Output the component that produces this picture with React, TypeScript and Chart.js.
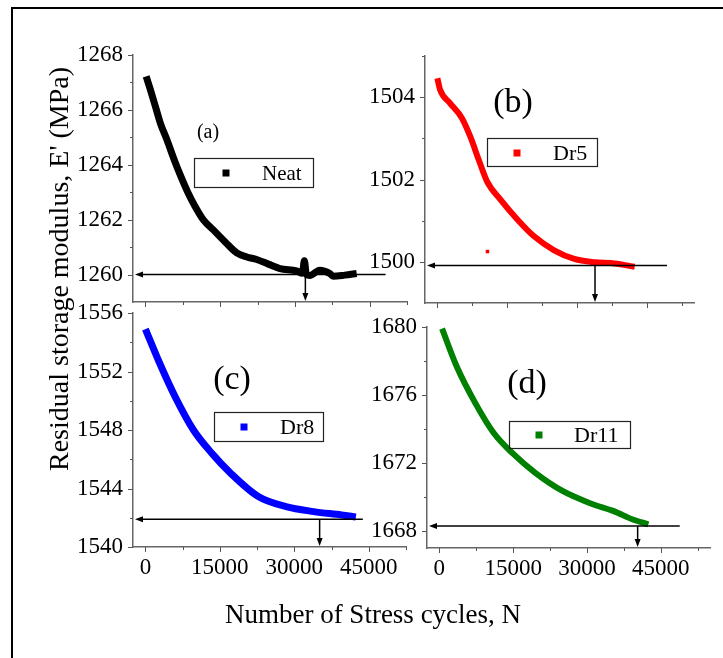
import React, { useEffect, useRef } from 'react';
import { Chart, registerables } from 'chart.js';
Chart.register(...registerables);

// ---------- Data ----------
// (a) Neat
const neatX = [140, 1000, 2000, 3000, 4330, 5670, 7000, 8470, 10000, 11670, 13670, 16000, 18330, 20330, 22330, 24670, 27000, 30330, 31500, 31900, 32300, 33000, 35000, 37000, 37670, 40000, 42400];
const neatY = [1267.22, 1266.73, 1266.12, 1265.51, 1264.9, 1264.23, 1263.62, 1263.01, 1262.47, 1261.98, 1261.62, 1261.19, 1260.79, 1260.64, 1260.55, 1260.38, 1260.22, 1260.13, 1260.05, 1260.5, 1260.0, 1259.97, 1260.16, 1260.04, 1259.94, 1259.98, 1260.04];
// (b) Dr5
const dr5X = [150, 730, 2880, 5400, 7190, 8980, 10780, 13640, 17240, 20810, 25110, 29420, 33720, 38030, 42330];
const dr5Y = [1504.46, 1504.18, 1503.85, 1503.49, 1503.04, 1502.48, 1501.95, 1501.51, 1501.03, 1500.62, 1500.28, 1500.07, 1499.99, 1499.96, 1499.88];
const dr5OutX = [10850];
const dr5OutY = [1500.25];
// (c) Dr8
const dr8X = [0, 2700, 5950, 9680, 13400, 17150, 22740, 28330, 33900, 39500, 42400];
const dr8Y = [1554.9, 1552.7, 1550.3, 1548.0, 1546.4, 1545.05, 1543.45, 1542.76, 1542.42, 1542.19, 1542.05];
// (d) Dr11
const dr11X = [560, 3560, 7320, 11060, 14820, 19500, 25130, 30760, 35450, 39200, 42470];
const dr11Y = [1679.9, 1677.66, 1675.52, 1673.76, 1672.59, 1671.42, 1670.34, 1669.62, 1669.17, 1668.69, 1668.39];

// Tick values
const xMajorTicks = [0, 15000, 30000, 45000];
const xMinorTicks = [7500, 22500, 37500, 52500];
const aYMajor = [1260, 1262, 1264, 1266, 1268];
const aYMinor = [1261, 1263, 1265, 1267];
const bYMajor = [1500, 1502, 1504];
const bYMinor = [1501, 1503, 1505];
const cYMajor = [1540, 1544, 1548, 1552, 1556];
const cYMinor = [1542, 1546, 1550, 1554];
const dYMajor = [1668, 1672, 1676, 1680];
const dYMinor = [1670, 1674, 1678];

// Arrow guide values: [horizontal level, horizontal line end x, vertical arrow x]
const aArrow = [1260, 48200, 32100];
const bArrow = [1499.91, 49240, 33840];
const cArrow = [1541.9, 43800, 35100];
const dArrow = [1668.3, 48850, 40300];

const SERIF = "'Liberation Serif', 'Times New Roman', serif";

type Panel = {
  area: { l: number; t: number; r: number; b: number };
  xMin: number; xMax: number; yMin: number; yMax: number;
  yMajor: number[]; yMinor: number[];
  showXLabels: boolean;
  xs: number[]; ys: number[]; color: string; lw: number;
  extraX?: number[]; extraY?: number[];
  arrow: number[];
  legend: { label: string; box: [number, number, number, number]; mx: number; my: number; tx: number; size: number };
  tag: { text: string; x: number; y: number; size: number };
};

const panels: Panel[] = [
  {
    area: { l: 133, t: 55, r: 407, b: 302 }, xMin: -2500, xMax: 52500, yMin: 1259, yMax: 1268,
    yMajor: aYMajor, yMinor: aYMinor, showXLabels: false,
    xs: neatX, ys: neatY, color: '#000000', lw: 7, arrow: aArrow,
    legend: { label: 'Neat', box: [194, 158, 313, 187], mx: 226, my: 173, tx: 262, size: 21 },
    tag: { text: '(a)', x: 208, y: 133, size: 20 },
  },
  {
    area: { l: 425, t: 56, r: 694, b: 303 }, xMin: -2500, xMax: 55000, yMin: 1499, yMax: 1505,
    yMajor: bYMajor, yMinor: bYMinor, showXLabels: false,
    xs: dr5X, ys: dr5Y, color: '#ff0000', lw: 6, extraX: dr5OutX, extraY: dr5OutY, arrow: bArrow,
    legend: { label: 'Dr5', box: [487, 138, 597, 166], mx: 517, my: 153, tx: 553, size: 22 },
    tag: { text: '(b)', x: 513, y: 103, size: 34 },
  },
  {
    area: { l: 133, t: 313, r: 406, b: 547 }, xMin: -2500, xMax: 52500, yMin: 1540, yMax: 1556,
    yMajor: cYMajor, yMinor: cYMinor, showXLabels: true,
    xs: dr8X, ys: dr8Y, color: '#0000ff', lw: 7, arrow: cArrow,
    legend: { label: 'Dr8', box: [214, 412, 323, 441], mx: 244, my: 427, tx: 280, size: 22 },
    tag: { text: '(c)', x: 232, y: 380, size: 34 },
  },
  {
    area: { l: 427, t: 327, r: 710, b: 548 }, xMin: -2500, xMax: 55000, yMin: 1667, yMax: 1680,
    yMajor: dYMajor, yMinor: dYMinor, showXLabels: true,
    xs: dr11X, ys: dr11Y, color: '#008000', lw: 6, arrow: dArrow,
    legend: { label: 'Dr11', box: [509, 421, 630, 448], mx: 539, my: 435, tx: 574, size: 22 },
    tag: { text: '(d)', x: 527, y: 384, size: 34 },
  },
];

function arrowHead(ctx: CanvasRenderingContext2D, tx: number, ty: number, dx: number, dy: number) {
  const len = 8, half = 3;
  const bx = tx - dx * len, by = ty - dy * len;
  const px = -dy, py = dx;
  ctx.beginPath();
  ctx.moveTo(tx, ty);
  ctx.lineTo(bx + px * half, by + py * half);
  ctx.lineTo(bx - px * half, by - py * half);
  ctx.closePath();
  ctx.fill();
}

function PanelChart({ p }: { p: Panel }) {
  const ref = useRef<HTMLCanvasElement>(null);
  useEffect(() => {
    const W = 723, H = 658, YW = 60, XH = 40;
    const deco = {
      id: 'deco',
      afterDatasetsDraw(chart: any) {
        const ctx: CanvasRenderingContext2D = chart.ctx;
        const xs = chart.scales.x, ys = chart.scales.y;
        const ca = chart.chartArea;
        ctx.save();
        const [hy, hxEnd, vx] = p.arrow;
        const yP = ys.getPixelForValue(hy);
        const xEnd = xs.getPixelForValue(hxEnd);
        const xV = xs.getPixelForValue(vx);
        ctx.strokeStyle = '#000';
        ctx.fillStyle = '#000';
        ctx.lineWidth = 1.5;
        ctx.beginPath();
        ctx.moveTo(ca.left + 6, yP);
        ctx.lineTo(xEnd, yP);
        ctx.stroke();
        arrowHead(ctx, ca.left + 2, yP, -1, 0);
        ctx.beginPath();
        ctx.moveTo(xV, yP);
        ctx.lineTo(xV, ca.bottom - 6);
        ctx.stroke();
        arrowHead(ctx, xV, ca.bottom - 1, 0, 1);
        ctx.restore();
      },
      afterDraw(chart: any) {
        const ctx: CanvasRenderingContext2D = chart.ctx;
        const xs = chart.scales.x, ys = chart.scales.y;
        const ca = chart.chartArea;
        ctx.save();
        ctx.strokeStyle = '#555';
        ctx.lineWidth = 1;
        const yt = (v: number, len: number) => {
          const y = Math.round(ys.getPixelForValue(v)) + 0.5;
          ctx.beginPath(); ctx.moveTo(ca.left - len, y); ctx.lineTo(ca.left, y); ctx.stroke();
        };
        const xt = (v: number, len: number) => {
          if (v < p.xMin || v > p.xMax) return;
          const x = Math.round(xs.getPixelForValue(v)) + 0.5;
          ctx.beginPath(); ctx.moveTo(x, ca.bottom); ctx.lineTo(x, ca.bottom + len); ctx.stroke();
        };
        p.yMajor.forEach(v => yt(v, 5));
        p.yMinor.forEach(v => { if (v <= p.yMax) yt(v, 3); });
        xMajorTicks.forEach(v => xt(v, 5));
        xMinorTicks.forEach(v => xt(v, 3));
        const [l, t, r, b] = p.legend.box;
        ctx.strokeStyle = '#222';
        ctx.lineWidth = 1.2;
        ctx.strokeRect(l + 0.5, t + 0.5, r - l, b - t);
        ctx.fillStyle = p.color;
        ctx.fillRect(p.legend.mx - 3.5, p.legend.my - 3.5, 7, 7);
        ctx.fillStyle = '#000';
        ctx.font = `${p.legend.size}px ${SERIF}`;
        ctx.textAlign = 'left';
        ctx.textBaseline = 'middle';
        ctx.fillText(p.legend.label, p.legend.tx, p.legend.my + 1);
        ctx.font = `${p.tag.size}px ${SERIF}`;
        ctx.textAlign = 'center';
        ctx.fillText(p.tag.text, p.tag.x, p.tag.y);
        ctx.restore();
      },
    };
    const datasets: any[] = [
      {
        data: p.xs.map((x, i) => ({ x, y: p.ys[i] })),
        borderColor: p.color,
        backgroundColor: p.color,
        borderWidth: p.lw,
        pointRadius: 0,
        cubicInterpolationMode: 'monotone',
        borderCapStyle: 'butt',
        borderJoinStyle: 'round',
        fill: false,
      },
    ];
    if (p.extraX) {
      datasets.push({
        data: p.extraX.map((x, i) => ({ x, y: p.extraY![i] })),
        showLine: false,
        pointStyle: 'rect',
        pointRadius: 2.5,
        borderWidth: 0,
        backgroundColor: p.color,
        borderColor: p.color,
      });
    }
    const tickFont = { family: SERIF, size: 23 };
    const chart = new Chart(ref.current!, {
      type: 'line',
      data: { datasets },
      options: {
        animation: false,
        responsive: false,
        devicePixelRatio: 1,
        events: [],
        layout: { padding: { left: p.area.l - YW, right: W - p.area.r, top: p.area.t, bottom: H - p.area.b - XH } },
        plugins: { legend: { display: false }, tooltip: { enabled: false }, title: { display: false } },
        scales: {
          x: {
            type: 'linear', min: p.xMin, max: p.xMax,
            afterFit: (s: any) => { s.height = XH; },
            afterBuildTicks: (s: any) => { s.ticks = xMajorTicks.map(v => ({ value: v })); },
            grid: { display: false, drawTicks: false },
            border: { display: true, color: '#666', width: 1.5 },
            ticks: {
              display: p.showXLabels, padding: 7, color: '#000', font: tickFont,
              maxRotation: 0, autoSkip: false, callback: (v: any) => String(v),
            },
          },
          y: {
            type: 'linear', min: p.yMin, max: p.yMax,
            afterFit: (s: any) => { s.width = YW; },
            afterBuildTicks: (s: any) => { s.ticks = p.yMajor.map(v => ({ value: v })); },
            grid: { display: false, drawTicks: false },
            border: { display: true, color: '#666', width: 1.5 },
            ticks: { padding: 10, color: '#000', font: tickFont, autoSkip: false, callback: (v: any) => String(v) },
          },
        },
      } as any,
      plugins: [deco],
    });
    return () => chart.destroy();
  }, []);
  return (
    <canvas
      ref={ref}
      width={723}
      height={658}
      style={{ position: 'fixed', left: 0, top: 0, width: 723, height: 658 }}
    />
  );
}

export default function App() {
  return (
    <div style={{ position: 'fixed', left: 0, top: 0, width: 723, height: 658, overflow: 'hidden', background: '#fff' }}>
      <div style={{ position: 'absolute', left: 11, top: 7, width: 900, height: 900, border: '2px solid #000' }} />
      {panels.map((p, i) => <PanelChart key={i} p={p} />)}
      <div
        style={{
          position: 'absolute', left: 59 - 250, top: 269 - 14, width: 500, height: 28,
          lineHeight: '28px', fontSize: 28, fontFamily: SERIF, textAlign: 'center', color: '#000',
          transform: 'rotate(-90deg)', whiteSpace: 'nowrap',
        }}
      >
        Residual storage modulus, E' (MPa)
      </div>
      <div
        style={{
          position: 'absolute', left: 373 - 250, top: 601, width: 500, height: 27,
          lineHeight: '27px', fontSize: 27, fontFamily: SERIF, textAlign: 'center', color: '#000', whiteSpace: 'nowrap',
        }}
      >
        Number of Stress cycles, N
      </div>
    </div>
  );
}
